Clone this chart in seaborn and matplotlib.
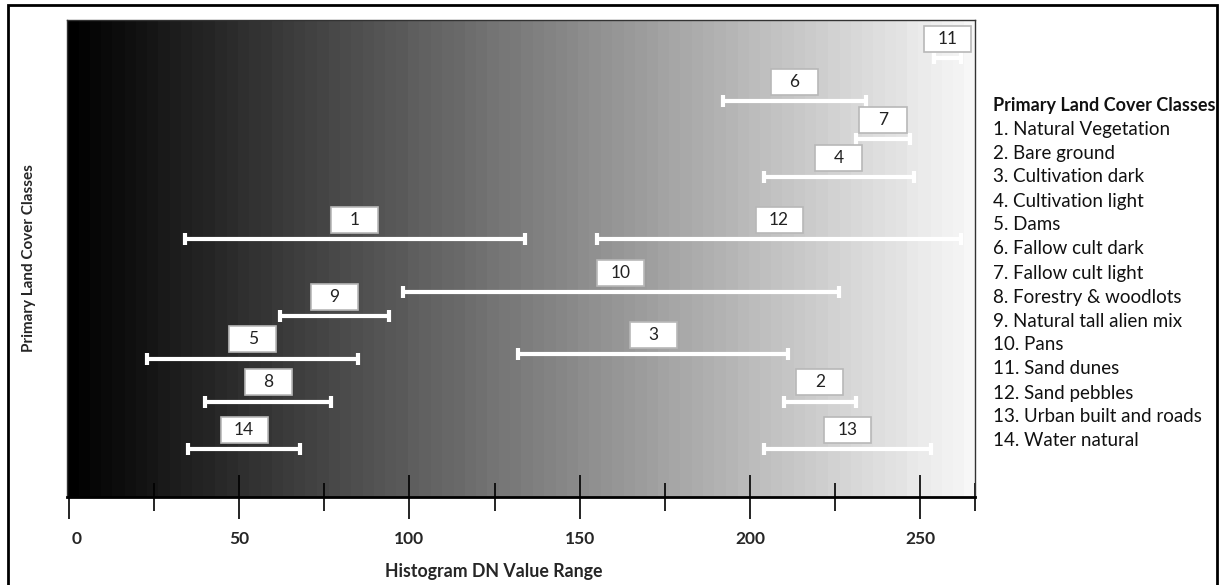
import numpy as np
import pandas as pd
import matplotlib
matplotlib.use("Agg")
import matplotlib.pyplot as plt
from matplotlib.patches import Rectangle
from matplotlib.transforms import ScaledTranslation
import seaborn as sns

# ---------------- data ----------------
class_ids = [1, 2, 3, 4, 5, 6, 7, 8, 9, 10, 11, 12, 13, 14]
class_names = ["Natural Vegetation", "Bare ground", "Cultivation dark", "Cultivation light",
               "Dams", "Fallow cult dark", "Fallow cult light", "Forestry & woodlots",
               "Natural tall alien mix", "Pans", "Sand dunes", "Sand pebbles",
               "Urban built and roads", "Water natural"]
dn_min = [34, 210, 132, 204, 23, 192, 231, 40, 62, 98, 254, 155, 204, 35]
dn_max = [134, 231, 211, 248, 85, 234, 247, 77, 94, 226, 262, 262, 253, 68]
row_level = [54, 20, 30, 67, 29, 83, 75, 20, 38, 43, 92, 54, 10, 10]
x_ticks_major = [0, 50, 100, 150, 200, 250]
x_ticks_minor = [25, 75, 125, 175, 225]
legend_title = "Primary Land Cover Classes"
x_title = "Histogram DN Value Range"
y_title = "Primary Land Cover Classes"

# ---------------- figure ----------------
sns.set_style("white")
plt.rcParams["font.family"] = ["Lato", "DejaVu Sans"]

W, H = 1224, 585
fig = plt.figure(figsize=(W / 100, H / 100), dpi=100)
ax = fig.add_axes([67 / W, 1 - 497 / H, (975 - 67) / W, (497 - 20) / H])

XMIN, XMAX = -0.5, 266
YMIN, YMAX = 0, 100

# gradient background (banded grey ramp)
n_bands = 80
grad = np.floor(np.linspace(0, 1, 900) * n_bands) / n_bands * 0.98
ax.imshow(grad[np.newaxis, :], extent=[XMIN, XMAX, YMIN, YMAX], aspect="auto",
          cmap="gray", vmin=0, vmax=1, zorder=0, interpolation="nearest")

# range bars via seaborn
rows = []
for cid, a, b, y in zip(class_ids, dn_min, dn_max, row_level):
    rows.append({"cls": cid, "dn": a, "level": y})
    rows.append({"cls": cid, "dn": b, "level": y})
df = pd.DataFrame(rows)

sns.lineplot(data=df, x="dn", y="level", units="cls", estimator=None, sort=False,
             color="white", linewidth=3, ax=ax, zorder=3, legend=False)
sns.scatterplot(data=df, x="dn", y="level", marker="|", s=70, linewidth=3,
                color="white", ax=ax, zorder=4, legend=False)

# label boxes
box_w = 13.8
box_h = 5.45
for cid, a, b, y in zip(class_ids, dn_min, dn_max, row_level):
    cx = (a + b) / 2
    by = y + 1.3
    ax.add_patch(Rectangle((cx - box_w / 2, by), box_w, box_h, facecolor="white",
                           edgecolor="#b8b8b8", linewidth=1.2, zorder=5))
    ax.text(cx, by + box_h / 2, str(cid), ha="center", va="center", fontsize=12.5,
            color="#222222", zorder=6)

ax.set_xlim(XMIN, XMAX)
ax.set_ylim(YMIN, YMAX)
ax.set_yticks([])
ax.set_xticks(x_ticks_major)
ax.set_xticks(x_ticks_minor + [XMAX], minor=True)
ax.set_xticklabels([str(t) for t in x_ticks_major], fontweight="bold", fontsize=12.5)
ax.tick_params(axis="x", which="both", bottom=True, top=False)
ax.tick_params(axis="x", which="major", direction="inout", length=31, width=1.2,
               color="black", pad=9)
ax.tick_params(axis="x", which="minor", direction="inout", length=20, width=1.2,
               color="black")
lbl0 = ax.get_xticklabels()[0]
lbl0.set_transform(lbl0.get_transform() + ScaledTranslation(0.08, 0, fig.dpi_scale_trans))

for s in ["top", "right", "left"]:
    ax.spines[s].set_color("#333333")
    ax.spines[s].set_linewidth(1)
ax.spines["bottom"].set_color("black")
ax.spines["bottom"].set_linewidth(2)

ax.set_xlabel(x_title, fontweight="bold", fontsize=12.8)
ax.xaxis.set_label_coords((494 - 67) / (975 - 67), -(572 - 497) / (497 - 20))
ax.xaxis.label.set_va("center")
ax.set_ylabel("")
fig.text(29 / W, 1 - 258 / H, y_title, rotation=90, ha="center", va="center",
         fontweight="bold", fontsize=11)

# legend text list on the right
fig.text(993 / W, 1 - 105 / H, legend_title, ha="left", va="center",
         fontweight="bold", fontsize=13, color="#111111")
for i, (cid, name) in enumerate(zip(class_ids, class_names)):
    fig.text(993 / W, 1 - (129 + 24 * i) / H, f"{cid}. {name}", ha="left",
             va="center", fontsize=13.5, color="#111111")

# outer frame
fig.patches.append(Rectangle((8 / W, -0.02), (1217 - 8) / W, 1.02 - 5 / H,
                             transform=fig.transFigure, fill=False,
                             edgecolor="black", linewidth=2))

fig.savefig("out.png", dpi=100)
